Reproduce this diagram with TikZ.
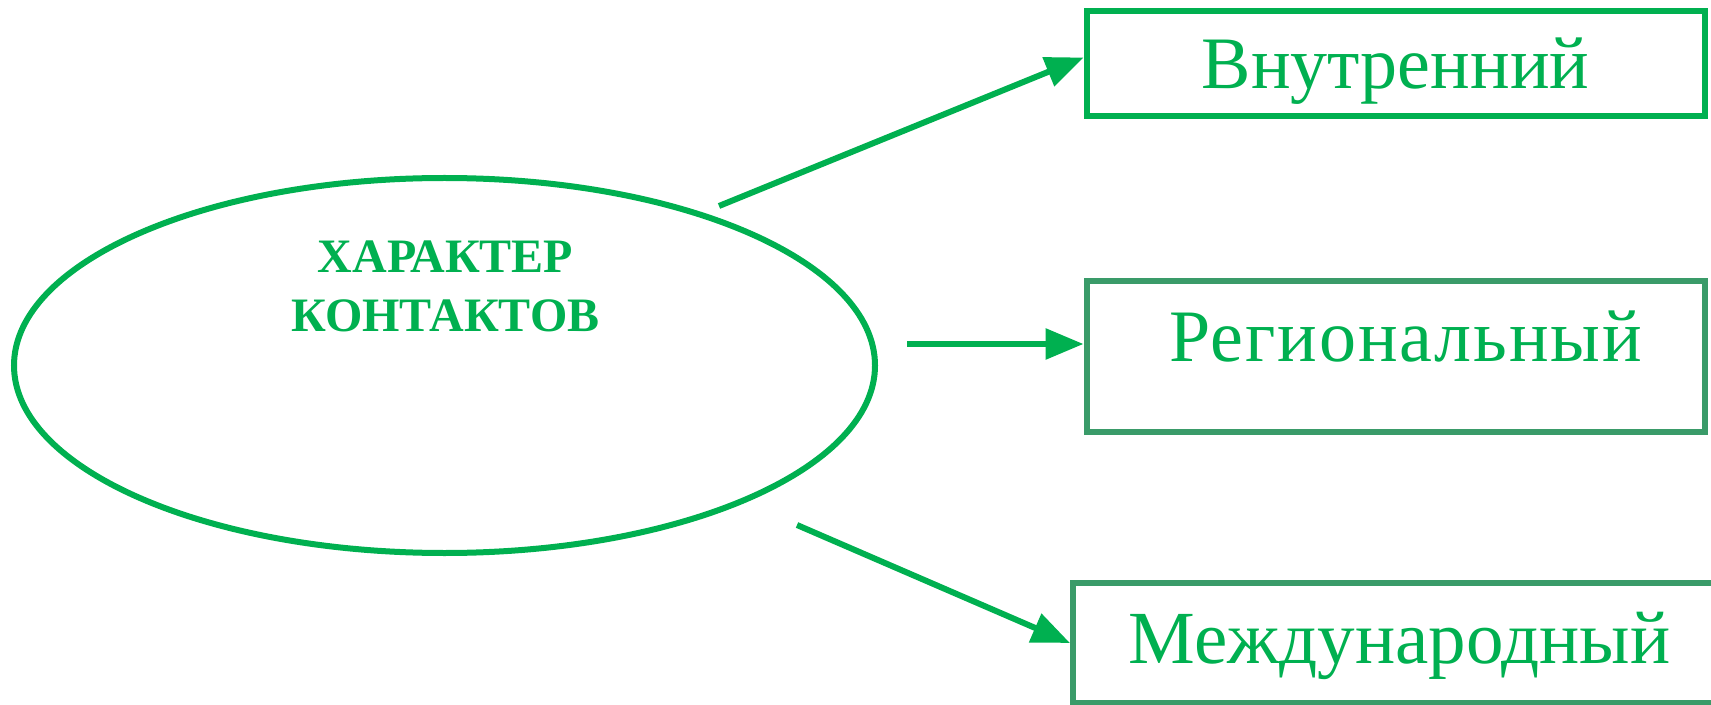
\documentclass[tikz,border=0pt]{standalone}
\usepackage{fontspec}
\setmainfont{Liberation Serif}
\usetikzlibrary{shapes.geometric,arrows.meta}
\definecolor{ofgreen}{HTML}{00B050}
\definecolor{boxgreen}{HTML}{3A9B69}

\begin{document}
\begin{tikzpicture}[x=0.5pt,y=-0.5pt,
  box/.style={draw=#1, line width=3pt, minimum width=309pt,
    inner sep=0pt, text depth=0pt, text=ofgreen, font=\fontsize{37}{40}\selectfont},
  arr/.style={ofgreen, line width=3pt, -{Triangle[length=19pt,width=15pt]}}]
  \useasboundingbox (0,0) rectangle (1711,705);
  \clip (0,0) rectangle (1711,705);

  % central ellipse
  \node[ellipse, draw=ofgreen, line width=3pt, minimum width=430.5pt,
    minimum height=187.5pt] (ell) at (444.5,365.5) {};
  \node[text=ofgreen, font=\bfseries\fontsize{24}{29.5}\selectfont,
    align=center] (title) at (445.5,286) {ХАРАКТЕР\\КОНТАКТОВ};

  % boxes
  \node[box=ofgreen, minimum height=52.5pt, text height=25.5pt] (inner) at (1395.5,63.5) {Внутренний};
  \node[box=boxgreen, minimum height=75.5pt, text height=4.5pt,
    font=\fontsize{37}{40}\selectfont\addfontfeature{LetterSpace=2.5}] (region) at (1395.5,356.5) {\hspace*{10pt}Региональный};
  \node[box=boxgreen, minimum width=326.5pt, minimum height=60pt, text height=20pt,
    font=\fontsize{37.5}{40}\selectfont] (intl) at (1399.5,643) {Международный};

  % arrows
  \coordinate (t0) at (719,206);
  \coordinate (m0) at (907,344);
  \coordinate (b0) at (797,525);
  \draw[arr] (t0) -- ([yshift=3pt]inner.west);
  \draw[arr] (m0) -- (m0 -| region.west);
  \draw[arr] (b0) -- (intl.west);
\end{tikzpicture}
\end{document}
